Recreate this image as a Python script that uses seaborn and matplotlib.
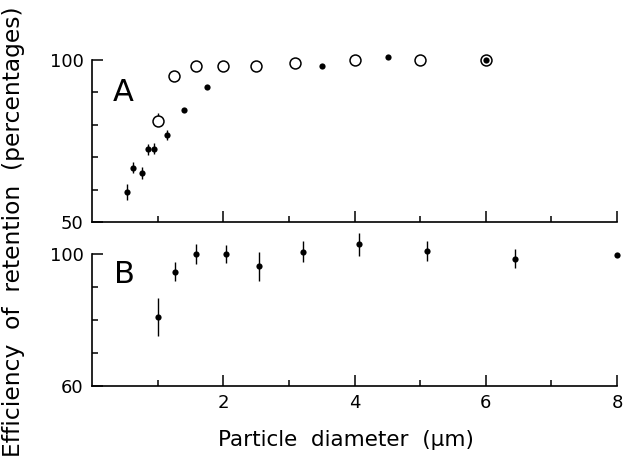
import numpy as np
import pandas as pd
import matplotlib
matplotlib.use("Agg")
import matplotlib.pyplot as plt
import seaborn as sns

# Panel A: filled points (with error bars) and open circles
xa_filled = [0.54, 0.63, 0.76, 0.85, 0.95, 1.15, 1.40, 1.75, 3.50, 4.51, 6.0]
ya_filled = [59.2, 66.8, 65.2, 72.5, 72.6, 76.8, 84.6, 91.6, 98.2, 101.0, 100.0]
ea_filled = [2.5, 1.8, 1.9, 1.7, 1.7, 1.5, 0, 0, 0, 0, 0]

xa_open = [1.0, 1.25, 1.59, 2.0, 2.5, 3.09, 4.0, 5.0, 6.0]
ya_open = [81.3, 95.1, 98.2, 98.1, 98.2, 99.0, 100.0, 99.9, 100.0]
ea_open_up = [2.4, 0, 0, 0, 0, 0, 0, 0, 0]

# Panel B: filled points with error bars
xb = [1.01, 1.27, 1.59, 2.04, 2.54, 3.21, 4.07, 5.10, 6.44, 8.0]
yb = [81.0, 94.7, 100.0, 100.1, 96.4, 100.8, 103.0, 101.0, 98.7, 99.8]
eb = [5.8, 2.9, 3.0, 2.7, 4.4, 3.2, 3.4, 3.0, 2.8, 0]

x_major = [2, 4, 6, 8]
x_minor = [1, 3, 5, 7]

sns.set_theme(style="ticks")
plt.rcParams["font.family"] = ["DejaVu Sans"]
plt.rcParams["text.color"] = "black"
plt.rcParams["xtick.labelcolor"] = "black"
plt.rcParams["ytick.labelcolor"] = "black"

W, H = 623, 467
fig = plt.figure(figsize=(W / 100, H / 100), dpi=100)
fig.patch.set_facecolor("white")

axA = fig.add_axes([92 / W, 0.5246, 525 / W, 0.3677])
axB = fig.add_axes([92 / W, 0.1741, 525 / W, 0.3306])


def style_axis(ax, ylo, yhi, ytop, ylabels):
    ax.set_facecolor("white")
    ax.set_xlim(0, 8)
    ax.set_ylim(ylo, ytop)
    for side in ("top", "right"):
        ax.spines[side].set_visible(False)
    for side in ("left", "bottom"):
        ax.spines[side].set_linewidth(1.2)
        ax.spines[side].set_color("black")
    ax.spines["left"].set_bounds(ylo, yhi)
    ax.set_yticks([ylo, yhi])
    ax.set_yticklabels(ylabels)
    ax.set_yticks(list(range(ylo + 10, yhi, 10)), minor=True)
    ax.set_xticks(x_major)
    ax.set_xticks(x_minor, minor=True)
    ax.tick_params(axis="both", which="major", direction="in", length=8,
                   width=1.1, color="black", labelsize=13, pad=6,
                   labelcolor="black")
    ax.tick_params(axis="both", which="minor", direction="in", length=4,
                   width=1.1, color="black")
    ax.set_xlabel("")
    ax.set_ylabel("")


# ---- Panel A ----
dfa_f = pd.DataFrame({"x": xa_filled, "y": ya_filled, "e": ea_filled})
dfa_o = pd.DataFrame({"x": xa_open, "y": ya_open, "e": ea_open_up})
axA.errorbar(dfa_f["x"], dfa_f["y"], yerr=dfa_f["e"], fmt="none",
             ecolor="black", elinewidth=1.0, capsize=0, zorder=2)
axA.errorbar(dfa_o["x"], dfa_o["y"],
             yerr=[np.zeros(len(dfa_o)), dfa_o["e"]], fmt="none",
             ecolor="black", elinewidth=1.0, capsize=0, zorder=2)
sns.scatterplot(data=dfa_o, x="x", y="y", ax=axA, s=62, marker="o",
                facecolor="white", edgecolor="black", linewidth=1.1,
                zorder=3, clip_on=False)
sns.scatterplot(data=dfa_f, x="x", y="y", ax=axA, s=20, marker="o",
                color="black", edgecolor="black", linewidth=0,
                zorder=4, clip_on=False)
style_axis(axA, 50, 100, 103, ["50", "100"])
axA.tick_params(axis="x", which="both", labelbottom=False)
axA.text(0.48, 90, "A", fontsize=22, ha="center", va="center",
         color="black")

# ---- Panel B ----
dfb = pd.DataFrame({"x": xb, "y": yb, "e": eb})
axB.errorbar(dfb["x"], dfb["y"], yerr=dfb["e"], fmt="none",
             ecolor="black", elinewidth=1.0, capsize=0, zorder=2,
             clip_on=False)
sns.scatterplot(data=dfb, x="x", y="y", ax=axB, s=20, marker="o",
                color="black", edgecolor="black", linewidth=0,
                zorder=4, clip_on=False)
style_axis(axB, 60, 100, 107, ["60", "100"])
axB.set_xticklabels([str(v) for v in x_major])
axB.text(0.5, 94, "B", fontsize=22, ha="center", va="center",
         color="black")

fig.text(346 / W, 0.058, "Particle  diameter  (\u03bcm)", fontsize=15.5,
         ha="center", va="center", color="black")
fig.text(14 / W, 0.503, "Efficiency  of  retention  (percentages)",
         fontsize=16.8, rotation=90, ha="center", va="center",
         color="black")

fig.savefig("out.png", dpi=100, facecolor="white")
